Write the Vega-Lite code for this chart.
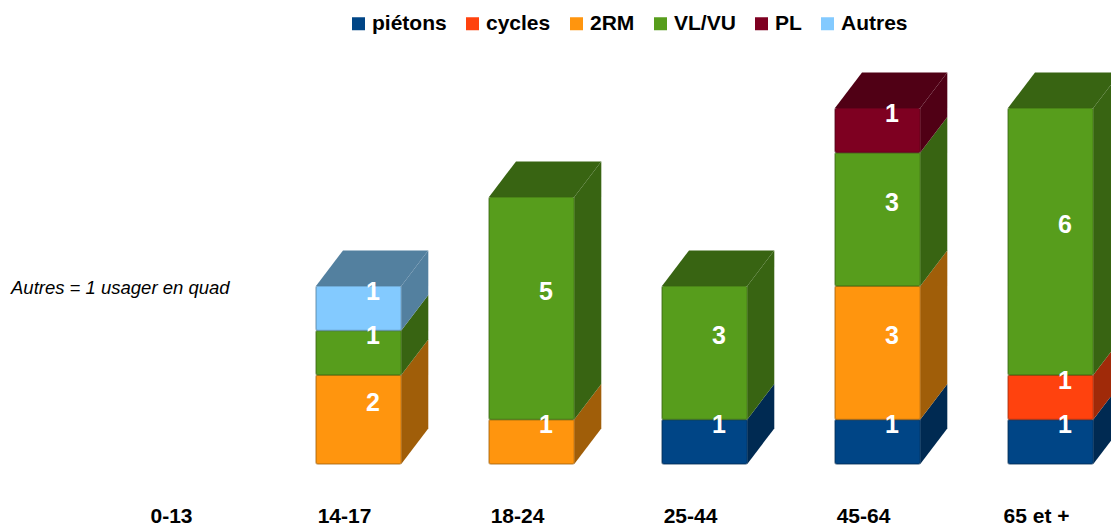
{
"$schema":"https://vega.github.io/schema/vega-lite/v6.json",
"width":1111,"height":490,"padding":{"left":0,"top":0,"right":0,"bottom":34},"autosize":{"type":"none"},
"background":"white",
"view":{"stroke":null},
"config":{"font":"Liberation Sans"},
"data":{"values":[
{"age":"14-17","type":"2RM","order":3,"value":2},
{"age":"14-17","type":"VL/VU","order":4,"value":1},
{"age":"14-17","type":"Autres","order":6,"value":1},
{"age":"18-24","type":"2RM","order":3,"value":1},
{"age":"18-24","type":"VL/VU","order":4,"value":5},
{"age":"25-44","type":"piétons","order":1,"value":1},
{"age":"25-44","type":"VL/VU","order":4,"value":3},
{"age":"45-64","type":"piétons","order":1,"value":1},
{"age":"45-64","type":"2RM","order":3,"value":3},
{"age":"45-64","type":"VL/VU","order":4,"value":3},
{"age":"45-64","type":"PL","order":5,"value":1},
{"age":"65 et +","type":"piétons","order":1,"value":1},
{"age":"65 et +","type":"cycles","order":2,"value":1},
{"age":"65 et +","type":"VL/VU","order":4,"value":6}
]},
"transform":[
{"stack":"value","groupby":["age"],"sort":[{"field":"order","order":"ascending"}],"as":["y0","y1"]},
{"calculate":"indexof(['0-13','14-17','18-24','25-44','45-64','65 et +'],datum.age)","as":"idx"},
{"calculate":"datum.idx-0.1676","as":"xl"},
{"calculate":"datum.idx+0.3254","as":"xr"},
{"joinaggregate":[{"op":"max","field":"y1","as":"ymax"}],"groupby":["age"]}
],
"resolve":{"scale":{"color":"independent"}},
"layer":[
{"transform":[{"calculate":"[0,1]","as":"d"},{"flatten":["d"]},
 {"calculate":"datum.xr+datum.d*0.156","as":"sx"},
 {"calculate":"datum.y0+datum.d*0.8","as":"sy0"},
 {"calculate":"datum.y1+datum.d*0.8","as":"sy1"}],
 "mark":{"type":"area","clip":true,"interpolate":"linear"},
 "encoding":{
  "x":{"field":"sx","type":"quantitative","scale":{"domain":[-0.9942,5.4277],"nice":false,"zero":false},"axis":{"values":[0,1,2,3,4,5],"labelExpr":"['0-13','14-17','18-24','25-44','45-64','65 et +'][datum.value]","title":null,"domain":false,"ticks":false,"grid":false,"labelFont":"Liberation Sans","labelFontWeight":"bold","labelFontSize":21,"labelColor":"#000000","labelPadding":15,"labelBaseline":"top","labelFlush":false,"labelOverlap":false,"labelOffset":-1}},
  "y":{"field":"sy1","type":"quantitative","stack":null,"scale":{"domain":[-0.584,10.427],"nice":false,"zero":false},"axis":null},
  "y2":{"field":"sy0"},
  "detail":{"field":"age"},
  "color":{"field":"type","type":"nominal","legend":null,"scale":{"domain":["piétons","cycles","2RM","VL/VU","PL","Autres"],"range":["#002a52","#a02a09","#a05e09","#386412","#500015","#53809f"]}}
 }},
{"transform":[{"filter":"datum.y1==datum.ymax"},{"calculate":"[0,1]","as":"d"},{"flatten":["d"]},
 {"calculate":"datum.xl+datum.d*0.156","as":"tx0"},
 {"calculate":"datum.xr+datum.d*0.156","as":"tx1"},
 {"calculate":"datum.y1+datum.d*0.8","as":"ty"}],
 "mark":{"type":"area","orient":"horizontal","clip":true},
 "encoding":{
  "y":{"field":"ty","type":"quantitative","stack":null,"scale":{"domain":[-0.584,10.427],"nice":false,"zero":false},"axis":null},
  "x":{"field":"tx0","type":"quantitative","scale":{"domain":[-0.9942,5.4277],"nice":false,"zero":false}},
  "x2":{"field":"tx1"},
  "detail":{"field":"age"},
  "color":{"field":"type","type":"nominal","legend":null,"scale":{"domain":["piétons","cycles","2RM","VL/VU","PL","Autres"],"range":["#002a52","#a02a09","#a05e09","#386412","#500015","#53809f"]}}
 }},
{"mark":{"type":"rect","clip":true,"cornerRadius":2,"strokeWidth":1.5,"strokeOpacity":0.55},
 "encoding":{
  "x":{"field":"xl","type":"quantitative","scale":{"domain":[-0.9942,5.4277],"nice":false,"zero":false}},
  "x2":{"field":"xr"},
  "y":{"field":"y1","type":"quantitative","scale":{"domain":[-0.584,10.427],"nice":false,"zero":false},"axis":null},
  "y2":{"field":"y0"},
  "stroke":{"field":"type","type":"nominal","legend":null,"scale":{"domain":["piétons","cycles","2RM","VL/VU","PL","Autres"],"range":["#002a52","#a02a09","#a05e09","#386412","#500015","#53809f"]}},
  "color":{"field":"type","type":"nominal","scale":{"domain":["piétons","cycles","2RM","VL/VU","PL","Autres"],"range":["#004586","#ff420e","#ff950e","#579d1c","#7e0021","#83caff"]},
   "legend":{"title":null,"orient":"none","legendX":348,"legendY":13,"direction":"horizontal","columns":6,"symbolType":"square","symbolSize":169,"symbolStrokeWidth":0,"labelFont":"Liberation Sans","labelFontWeight":"bold","labelFontSize":21,"labelColor":"#000000","labelOffset":3,"columnPadding":15,"labelLimit":200}}
 }},
{"transform":[{"calculate":"datum.idx+0.161","as":"tx"},{"calculate":"(datum.y0+datum.y1)/2+0.37","as":"ty"}],
 "mark":{"type":"text","color":"#ffffff","font":"Liberation Sans","fontWeight":"bold","fontSize":25,"baseline":"middle","align":"center","clip":true},
 "encoding":{
  "x":{"field":"tx","type":"quantitative","scale":{"domain":[-0.9942,5.4277],"nice":false,"zero":false}},
  "y":{"field":"ty","type":"quantitative","scale":{"domain":[-0.584,10.427],"nice":false,"zero":false},"axis":null},
  "text":{"field":"value","type":"quantitative"}
 }},
{"data":{"values":[{"note":"Autres = 1 usager en quad"}]},
 "transform":[],
 "mark":{"type":"text","font":"Liberation Sans","fontStyle":"italic","fontSize":18.5,"color":"#000000","align":"left","baseline":"middle"},
 "encoding":{
  "x":{"datum":-0.9306,"type":"quantitative"},
  "y":{"datum":3.955,"type":"quantitative"},
  "text":{"field":"note"}
 }}
]
}
